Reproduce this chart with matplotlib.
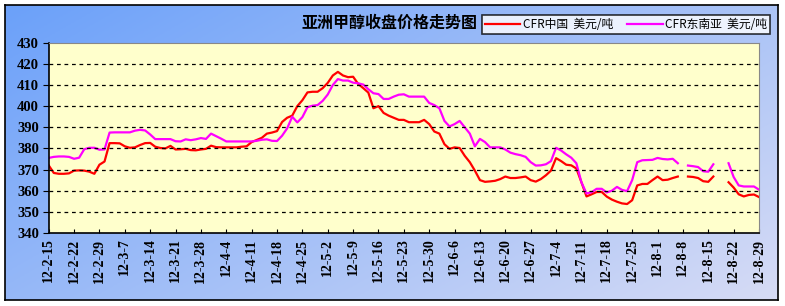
import numpy as np
import matplotlib
matplotlib.use("Agg")
import matplotlib.pyplot as plt

plt.rcParams['font.family'] = ['Noto Sans CJK SC', 'DejaVu Sans']

nan = np.nan

# weekly tick labels (one every 5 trading days)
week_labels = ["12-2-15", "12-2-22", "12-2-29", "12-3-7", "12-3-14", "12-3-21",
               "12-3-28", "12-4-4", "12-4-11", "12-4-18", "12-4-25", "12-5-2",
               "12-5-9", "12-5-16", "12-5-23", "12-5-30", "12-6-6", "12-6-13",
               "12-6-20", "12-6-27", "12-7-4", "12-7-11", "12-7-18", "12-7-25",
               "12-8-1", "12-8-8", "12-8-15", "12-8-22", "12-8-29"]

# CFR China, USD/t (daily)
cfr_china = [
    372, 368.4, 368, 368, 368.2, 369.5, 369.6, 369.5, 369, 368,
    372.3, 373.8, 382.5, 382.5, 382.4, 381, 380.3, 380.5, 381.6, 382.5,
    382.6, 380.8, 380.2, 380, 381.2, 379.5, 379.6, 379.8, 379.2, 379.1,
    379.5, 379.8, 381.3, 380.6, 380.5, 380.5, 380.5, 380.5, 380.8, 381,
    383, 384, 385, 387, 387.5, 388.2, 392.5, 394.5, 395.5, 400,
    402.8, 406.5, 406.8, 406.8, 408.5, 411, 414.5, 416.2, 414.5, 413.7,
    413.9, 410.5, 408.5, 406.4, 399, 400, 396.8, 395.5, 394.5, 393.5,
    393.5, 392.4, 392.4, 392.4, 393.5, 391.5, 388, 387, 382, 379.8,
    380.5, 380.2, 376.5, 373.5, 369.5, 365, 364.2, 364.4, 364.7, 365.5,
    366.7, 366, 366, 366.3, 366.7, 365, 364.3, 365.5, 367.3, 369.5,
    375.4, 374, 372.3, 372, 370.5, 364, 357.3, 358.3, 359.4, 359.4,
    357.2, 355.8, 354.8, 354, 353.7, 355.5, 362.5, 363.2, 363.2, 365,
    366.7, 365, 365.2, 366, 366.7, nan, 366.7, 366.5, 366, 364.5,
    364.2, 366.7, nan, nan, 364, 361.5, 358.3, 357.3, 358, 358.2,
    357,
]

# CFR South-East Asia, USD/t
cfr_sea = [
    375.5, 376, 376.2, 376.2, 376, 375.1, 375.6, 379.6, 380.3, 380.3,
    379.4, 379.5, 387.5, 387.6, 387.6, 387.6, 387.6, 388.4, 388.8, 388.5,
    386.6, 384.4, 384.4, 384.4, 384.4, 383.4, 383.3, 384.3, 383.9, 384.3,
    384.9, 384.5, 387, 385.8, 384.6, 383.3, 383.3, 383.3, 383.3, 383.3,
    383.3, 383.6, 384.1, 384.3, 383.6, 383.5, 386, 389.5, 395, 392.3,
    394.8, 399.5, 400.2, 400.5, 402.5, 405.5, 410, 412.8, 412.1, 412.1,
    411.1, 410.8, 410.2, 408, 406.1, 405.7, 403.4, 403.4, 404.5, 405.4,
    405.6, 404.5, 404.5, 404.5, 404.5, 401.5, 400.5, 399, 393, 390.4,
    391.5, 393, 390, 387, 381, 384.5, 383, 380.5, 380.5, 380.5,
    379.5, 378, 377.3, 376.8, 376, 373.5, 371.9, 372, 372.5, 374,
    380.3, 379, 377.2, 375.6, 373, 364, 358.7, 359.3, 360.9, 360.9,
    359.2, 360, 361.8, 360.4, 359.8, 365, 373.5, 374.4, 374.5, 374.6,
    375.5, 375, 374.8, 375.1, 373, nan, 371.9, 371.6, 371.2, 369.2,
    369, 372.5, nan, nan, 373, 366.5, 362.5, 362, 362, 362,
    360.5,
]

W, H = 785, 306
fig = plt.figure(figsize=(W / 100, H / 100), dpi=100)
fig.patch.set_facecolor("white")

# blue chart-area background with a soft gradient
bg = fig.add_axes([5 / W, 6 / H, 773 / W, 295 / H])
gx, gy = np.meshgrid(np.linspace(0, 1, 200), np.linspace(0, 1, 100))
g = np.clip(0.6 * gx + 0.4 * gy, 0, 1)
c0 = np.array([0.42, 0.63, 0.98])
c1 = np.array([0.84, 0.86, 0.96])
img = c0[None, None, :] * (1 - g[..., None]) + c1[None, None, :] * g[..., None]
bg.imshow(img, aspect="auto", extent=[0, 1, 0, 1], origin="upper")
bg.set_xlim(0, 1)
bg.set_ylim(0, 1)
bg.set_xticks([])
bg.set_yticks([])
for s in bg.spines.values():
    s.set_color("black")
    s.set_linewidth(1.2)

ax = fig.add_axes([48.7 / W, 1 - 233 / H, (759 - 48.7) / W, (233 - 42.7) / H])
ax.set_facecolor("#FFFFCC")

x = np.arange(len(cfr_china))
ax.plot(x, cfr_china, color="#FF0000", lw=1.6, label="CFR中国  美元/吨")
ax.plot(x, cfr_sea, color="#FF00FF", lw=1.6, label="CFR东南亚  美元/吨")

ax.set_xlim(0, len(cfr_china) - 1)
ax.set_ylim(340, 430)
ax.set_yticks(np.arange(340, 431, 10))
for v in range(350, 430, 10):
    ax.axhline(v, color="black", lw=0.9, ls=(0, (3, 3)))

tick_pos = np.arange(len(week_labels)) * 5
ax.set_xticks(tick_pos)
ax.set_xticklabels(week_labels, rotation=90, family="Liberation Serif",
                   fontweight="bold", fontsize=10)
ax.tick_params(axis="x", direction="in", length=3, pad=4, color="black")
ax.tick_params(axis="y", direction="out", length=4, pad=3, color="black")
for lab in ax.get_yticklabels():
    lab.set_family("Liberation Serif")
    lab.set_fontweight("bold")
    lab.set_fontsize(10.5)

ax.spines["left"].set_color("black")
ax.spines["bottom"].set_color("black")
ax.spines["top"].set_color("#888888")
ax.spines["right"].set_color("#888888")
ax.spines["left"].set_linewidth(1.2)
ax.spines["bottom"].set_linewidth(1.2)

fig.text(390 / W, 1 - 23 / H, "亚洲甲醇收盘价格走势图", ha="center", va="center",
         fontsize=11.5, fontweight="bold", color="black")

leg = ax.legend(loc="upper left", bbox_to_anchor=((482 - 48.7) / (759 - 48.7), 1 + (42.7 - 15) / (233 - 42.7)),
                ncol=2, frameon=True, fancybox=False, fontsize=8.5, handlelength=3.0,
                borderpad=0.25, columnspacing=1.2, handletextpad=0.2, borderaxespad=0)
leg.get_frame().set_edgecolor("black")
leg.get_frame().set_linewidth(1.2)
leg.set_clip_on(False)

fig.savefig("out.png", dpi=100)
